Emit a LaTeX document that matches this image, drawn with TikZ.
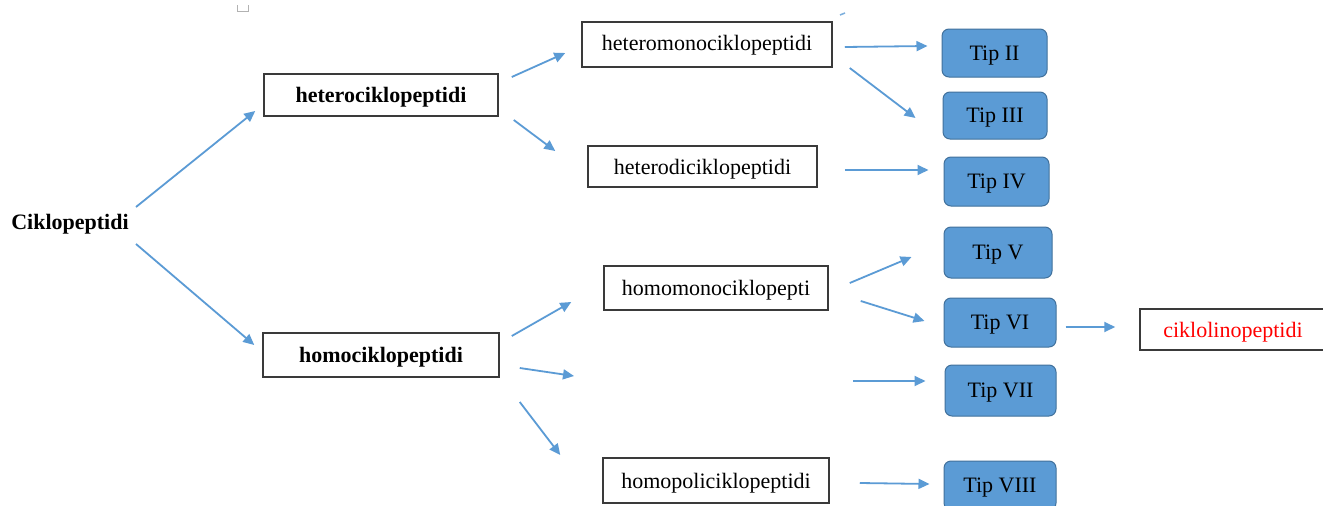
\documentclass[tikz,border=0pt]{standalone}
\usepackage{fontspec}
\setmainfont{Liberation Serif}
\usetikzlibrary{calc,arrows.meta}
\definecolor{arrblue}{HTML}{5B9BD5}
\definecolor{tipfill}{HTML}{5B9BD5}
\definecolor{tipedge}{HTML}{41719C}
\definecolor{boxedge}{HTML}{3A3A3A}
\tikzset{
  lbl/.style={font=\fontsize{22}{26}\selectfont, inner sep=0pt, text depth=0pt},
  plainbox/.style={lbl, draw=boxedge, line width=1.5pt, fill=white},
  tipbox/.style={lbl, draw=tipedge, line width=1pt, fill=tipfill, rounded corners=7pt},
  arr/.style={draw=arrblue, line width=1.8pt, -{Triangle[length=11pt,width=10pt]}}
}
\begin{document}
\begin{tikzpicture}[x=1pt,y=-1pt]
\clip (0,0) rectangle (1323,506);
\fill[white] (0,0) rectangle (1323,506);
% small marks at the top
\draw[gray!60, line width=1pt] (237,5) -- (237,11) -- (248,11) -- (248,5);
\draw[arrblue!80, line width=1.5pt] (840,15) -- (845,13);

\node[lbl, font=\fontsize{22}{26}\selectfont\bfseries] (cik) at (70,222) {Ciklopeptidi};

\node[plainbox, minimum width=234pt, minimum height=42pt, font=\fontsize{22}{26}\selectfont\bfseries] (het) at (381,95) {heterociklopeptidi};
\node[plainbox, minimum width=236pt, minimum height=44pt, font=\fontsize{22}{26}\selectfont\bfseries] (hom) at (381,355) {homociklopeptidi};

\node[plainbox, minimum width=250pt, minimum height=45pt, text depth=3pt] (hmono) at (707,44.5) {heteromonociklopeptidi};
\node[plainbox, minimum width=229pt, minimum height=41pt] (hdi) at (702.5,166.5) {heterodiciklopeptidi};
\node[plainbox, minimum width=224pt, minimum height=44pt] (omono) at (716,288) {homomonociklopepti};
\node[plainbox, minimum width=226pt, minimum height=45pt] (opoli) at (716,480.5) {homopoliciklopeptidi};

\node[tipbox, minimum width=105pt, minimum height=48pt] (t2) at (994.5,53) {Tip II};
\node[tipbox, minimum width=104pt, minimum height=47pt] (t3) at (995,115.5) {Tip III};
\node[tipbox, minimum width=105pt, minimum height=49pt] (t4) at (996.5,181.5) {Tip IV};
\node[tipbox, minimum width=108pt, minimum height=51pt] (t5) at (998,252.5) {Tip V};
\node[tipbox, minimum width=112pt, minimum height=49pt] (t6) at (1000,322.5) {Tip VI};
\node[tipbox, minimum width=111pt, minimum height=51pt] (t7) at (1000.5,390.5) {Tip VII};
\node[tipbox, minimum width=112pt, minimum height=49pt] (t8) at (1000,485.5) {Tip VIII};

\node[plainbox, minimum width=186pt, minimum height=41pt, text=red] (cl) at (1233,329.5) {ciklolinopeptidi};

\coordinate (blankin) at (574,376);
\coordinate (blankout) at (853,381);

\draw[arr] ($(cik)+(66,-15)$) -- ($(het.west)+(-8,16)$);
\draw[arr] ($(cik)+(66,22)$) -- ($(hom.west)+(-8,-10)$);
\draw[arr] ($(het.east)+(13,-18)$) -- ($(hmono.west)+(-16,8.5)$);
\draw[arr] ($(het.east)+(15,25)$) -- ($(hdi.west)+(-32,-15.5)$);
\draw[arr] ($(hmono.east)+(12,2.5)$) -- ($(t2.west)+(-14,-7)$);
\draw[arr] ($(hmono.east)+(17,23.5)$) -- ($(t3.west)+(-27,2.5)$);
\draw[arr] ($(hdi.east)+(27,3.5)$) -- ($(t4.west)+(-15,-11.5)$);
\draw[arr] ($(hom.east)+(12,-19)$) -- ($(omono.west)+(-32,14)$);
\draw[arr] ($(hom.east)+(20,13)$) -- (blankin);
\draw[arr] ($(hom.east)+(20,47)$) -- ($(opoli.west)+(-42,-25.5)$);
\draw[arr] ($(omono.east)+(21,-5)$) -- ($(t5.west)+(-32,4.5)$);
\draw[arr] ($(omono.east)+(32,13)$) -- ($(t6.west)+(-19,-1.5)$);
\draw[arr] (blankout) -- ($(t7.west)+(-19,-9.5)$);
\draw[arr] ($(opoli.east)+(30,2.5)$) -- ($(t8.west)+(-14,-1.5)$);
\draw[arr] ($(t6.east)+(9,4.5)$) -- ($(cl.west)+(-24,-2.5)$);
\end{tikzpicture}
\end{document}
